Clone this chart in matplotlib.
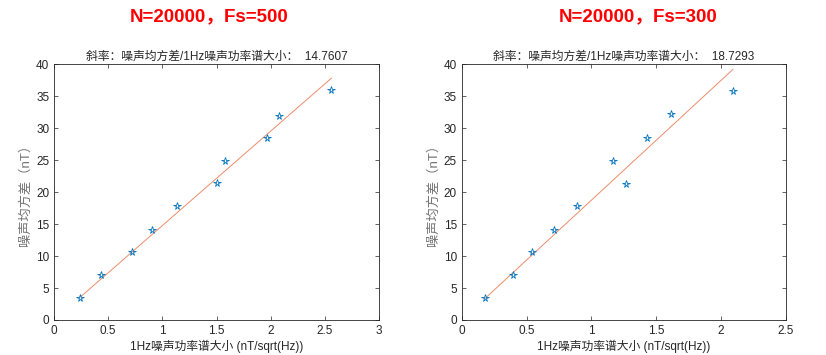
import numpy as np
import matplotlib
matplotlib.use('Agg')
import matplotlib.pyplot as plt

plt.rcParams['font.family'] = ['Liberation Sans', 'Noto Sans CJK SC', 'DejaVu Sans']

# noise std (nT), same set for both runs
noise_std = [3.5, 7.1, 10.7, 14.1, 17.8, 21.35, 24.9, 28.5, 31.9, 36.0]
# 1Hz noise PSD amplitude, Fs=500
psd_500 = [0.243, 0.437, 0.723, 0.902, 1.132, 1.505, 1.582, 1.966, 2.077, 2.56]
# 1Hz noise PSD amplitude, Fs=300 (order matches psd_300_y)
psd_300 = [0.180, 0.399, 0.543, 0.711, 0.886, 1.267, 1.169, 1.431, 1.614, 2.091]
psd_300_y = [3.5, 7.05, 10.65, 14.1, 17.8, 21.3, 24.85, 28.45, 32.15, 35.8]

slopes = [14.7607, 18.7293]
titles = ['N=20000，Fs=500', 'N=20000，Fs=300']
xlims = [(0, 3), (0, 2.5)]
xticks = [[0, 0.5, 1, 1.5, 2, 2.5, 3], [0, 0.5, 1, 1.5, 2, 2.5]]

blue = (0.0, 0.447, 0.741)
orange = (0.93, 0.55, 0.42)
dark = (0.15, 0.15, 0.15)

fig = plt.figure(figsize=(8.26, 3.55), dpi=100)
positions = [[0.0654, 0.0986, 0.3935, 0.721], [0.559, 0.0986, 0.3925, 0.721]]
title_x = [0.253, 0.772]

datasets = [(psd_500, noise_std), (psd_300, psd_300_y)]

for i, (xs, ys) in enumerate(datasets):
    ax = fig.add_axes(positions[i])
    xs = np.array(xs)
    k = slopes[i]
    xfit = np.array([xs.min(), xs.max()])
    ax.plot(xfit, k * xfit, color=orange, lw=0.7)
    ax.plot(xs, ys, linestyle='none', marker='*', markersize=5.5,
            markerfacecolor='none', markeredgecolor=blue, markeredgewidth=0.6)
    ax.set_xlim(*xlims[i])
    ax.set_ylim(0, 40)
    ax.set_xticks(xticks[i])
    ax.set_xticklabels([f'{t:g}' for t in xticks[i]])
    ax.set_yticks(range(0, 41, 5))
    ax.tick_params(direction='in', top=True, right=True, labelsize=8.5,
                   colors=dark, length=3, width=0.5)
    for s in ax.spines.values():
        s.set_color(dark)
        s.set_linewidth(0.6)
    ax.set_title(f'斜率：噪声均方差/1Hz噪声功率谱大小：  {k:.4f}',
                 fontsize=8.5, color=dark, pad=3)
    ax.set_xlabel('1Hz噪声功率谱大小 (nT/sqrt(Hz))', fontsize=8.5, color=dark, labelpad=2)
    ax.set_ylabel('噪声均方差（nT）', fontsize=9.5, color=(0.45, 0.45, 0.45), labelpad=3)
    fig.text(title_x[i], 0.952, titles[i], color='red', fontsize=13.5,
             fontweight='bold', ha='center', va='center')

fig.savefig('out.png', dpi=100)
